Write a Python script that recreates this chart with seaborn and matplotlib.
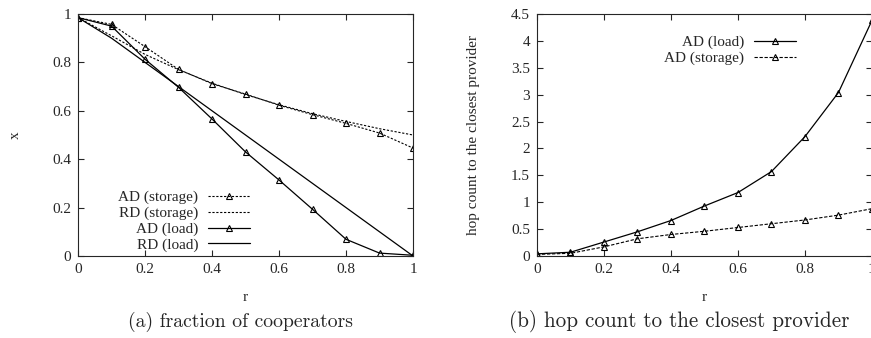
import numpy as np
import pandas as pd
import seaborn as sns
import matplotlib.pyplot as plt

sns.set_style('ticks')
plt.rcParams['font.family'] = ['Liberation Serif', 'DejaVu Serif']
plt.rcParams['xtick.direction'] = 'in'
plt.rcParams['ytick.direction'] = 'in'
plt.rcParams['xtick.top'] = True
plt.rcParams['ytick.right'] = True

# data
r = [0.0, 0.1, 0.2, 0.3, 0.4, 0.5, 0.6, 0.7, 0.8, 0.9, 1.0]
ad_storage = [0.985, 0.957, 0.865, 0.771, 0.712, 0.669, 0.623, 0.584, 0.548, 0.508, 0.446]
rd_storage = [0.985, 0.91, 0.833, 0.77, 0.714, 0.667, 0.625, 0.588, 0.556, 0.526, 0.5]
ad_load = [0.985, 0.95, 0.813, 0.697, 0.566, 0.43, 0.314, 0.193, 0.069, 0.012, 0.003]
rd_load = [0.985, 0.9, 0.8, 0.7, 0.6, 0.5, 0.4, 0.3, 0.2, 0.1, 0.0]

hop_load = [0.04, 0.07, 0.26, 0.45, 0.66, 0.93, 1.18, 1.57, 2.22, 3.04, 4.38]
hop_storage = [0.03, 0.05, 0.17, 0.32, 0.40, 0.46, 0.53, 0.60, 0.67, 0.76, 0.88]

df = pd.DataFrame({'r': r, 'ad_storage': ad_storage, 'rd_storage': rd_storage,
                   'ad_load': ad_load, 'rd_load': rd_load,
                   'hop_load': hop_load, 'hop_storage': hop_storage})

dotted = (0, (2, 1.5))
tri = dict(marker='^', markersize=4.5, markerfacecolor='none',
           markeredgecolor='black', markeredgewidth=0.8)
fs = 11

fig = plt.figure(figsize=(8.71, 3.38), dpi=100)
ax1 = fig.add_axes([0.0896, 0.2426, 0.3846, 0.716])
ax2 = fig.add_axes([0.6165, 0.2426, 0.3846, 0.716])

# (a) fraction of cooperators
sns.lineplot(data=df, x='r', y='ad_storage', ax=ax1, color='black', lw=0.8,
             linestyle=dotted, label='AD (storage)', **tri)
sns.lineplot(data=df, x='r', y='rd_storage', ax=ax1, color='black', lw=0.8,
             linestyle=dotted, label='RD (storage)')
sns.lineplot(data=df, x='r', y='ad_load', ax=ax1, color='black', lw=0.9,
             label='AD (load)', **tri)
sns.lineplot(data=df, x='r', y='rd_load', ax=ax1, color='black', lw=0.9,
             label='RD (load)')
ax1.set_xlim(0, 1)
ax1.set_ylim(0, 1)
ax1.set_xticks([0, 0.2, 0.4, 0.6, 0.8, 1])
ax1.set_xticklabels(['0', '0.2', '0.4', '0.6', '0.8', '1'])
ax1.set_yticks([0, 0.2, 0.4, 0.6, 0.8, 1])
ax1.set_yticklabels(['0', '0.2', '0.4', '0.6', '0.8', '1'])
ax1.set_xlabel('r', fontsize=fs, labelpad=11)
ax1.set_ylabel('x', fontsize=fs, labelpad=22)
ax1.legend(loc='lower right', bbox_to_anchor=(0.555, -0.04), frameon=False,
           markerfirst=False, handlelength=2.75, fontsize=fs, labelspacing=0.13,
           numpoints=1, handletextpad=0.65)

# (b) hop count to the closest provider
sns.lineplot(data=df, x='r', y='hop_load', ax=ax2, color='black', lw=0.9,
             label='AD (load)', **tri)
sns.lineplot(data=df, x='r', y='hop_storage', ax=ax2, color='black', lw=0.8,
             linestyle=(0, (3, 1.5)), label='AD (storage)', **tri)
ax2.set_xlim(0, 1)
ax2.set_ylim(0, 4.5)
ax2.set_xticks([0, 0.2, 0.4, 0.6, 0.8, 1])
ax2.set_xticklabels(['0', '0.2', '0.4', '0.6', '0.8', '1'])
ax2.set_yticks([0, 0.5, 1, 1.5, 2, 2.5, 3, 3.5, 4, 4.5])
ax2.set_yticklabels(['0', '0.5', '1', '1.5', '2', '2.5', '3', '3.5', '4', '4.5'])
ax2.set_xlabel('r', fontsize=fs, labelpad=11)
ax2.set_ylabel('hop count to the closest provider', fontsize=fs, labelpad=22)
ax2.legend(loc='upper right', bbox_to_anchor=(0.815, 0.968), frameon=False,
           markerfirst=False, handlelength=2.75, fontsize=fs, labelspacing=0.13,
           numpoints=1, handletextpad=0.65)

for ax in (ax1, ax2):
    ax.tick_params(labelsize=fs, length=4, width=0.8, pad=5)
    for s in ax.spines.values():
        s.set_linewidth(0.8)

fig.text(0.2755, 0.033, '(a) fraction of cooperators', ha='center',
         fontsize=14.2, family=['cmr10', 'DejaVu Serif'])
fig.text(0.7796, 0.033, '(b) hop count to the closest provider', ha='center',
         fontsize=15.2, family=['cmr10', 'DejaVu Serif'])

fig.savefig('out.png', dpi=100)
